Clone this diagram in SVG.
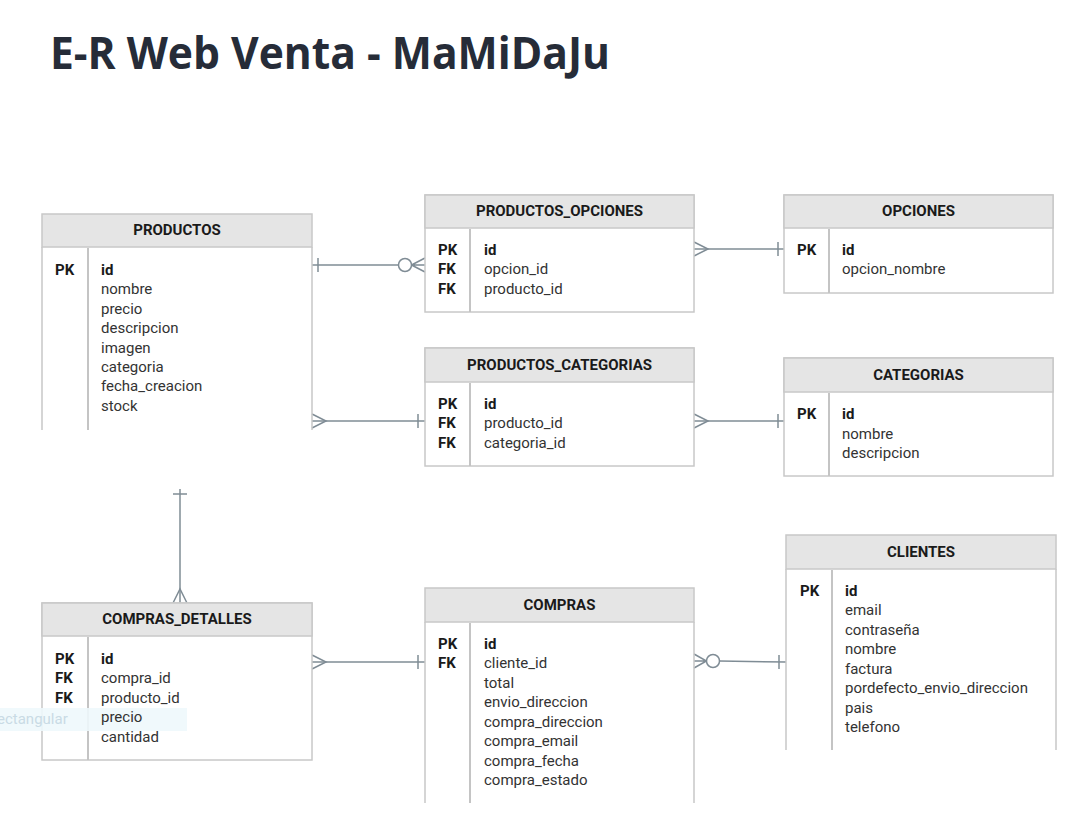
<svg xmlns="http://www.w3.org/2000/svg" width="1086" height="815" viewBox="0 0 1086 815">
<style>
.title{font-family:"Open Sans","Liberation Sans",sans-serif;font-weight:700;font-size:45px;fill:#262c38}
.hd{fill:#e5e5e5;stroke:#c8c8c8;stroke-width:1.5}
.bd{fill:#ffffff;stroke:#c8c8c8;stroke-width:1.5}
.ln{fill:none;stroke:#c8c8c8;stroke-width:1.5}
.dv{stroke:#c4c4c4;stroke-width:2}
.ht{font-family:Roboto,"Liberation Sans",sans-serif;font-weight:700;font-size:15px;fill:#1a1a1a;text-anchor:middle}
.k{font-family:Roboto,"Liberation Sans",sans-serif;font-weight:700;font-size:15px;fill:#1a1a1a}
.f{font-family:Roboto,"Liberation Sans",sans-serif;font-size:15px;fill:#333333}
.fb{font-family:Roboto,"Liberation Sans",sans-serif;font-weight:700;font-size:15px;fill:#1a1a1a}
.c{fill:none;stroke:#7f8c95;stroke-width:1.5}
.cw{fill:#ffffff;stroke:#7f8c95;stroke-width:1.5}
</style>
<rect width="1086" height="815" fill="#ffffff"/>
<text class="title" x="50" y="69" textLength="560" lengthAdjust="spacingAndGlyphs">E-R Web Venta - MaMiDaJu</text>

<g id="connectors">
<line class="c" x1="312" y1="265" x2="398" y2="265"/>
<line class="c" x1="318" y1="258" x2="318" y2="272"/>
<circle class="cw" cx="405" cy="265" r="6.5"/>
<path class="c" d="M411.5 265 L425 258 M411.5 265 L425 265 M411.5 265 L425 272"/>
<line class="c" x1="694" y1="249" x2="784" y2="249"/>
<path class="c" d="M694 242 L708 249 L694 256"/>
<line class="c" x1="778" y1="242" x2="778" y2="256"/>
<line class="c" x1="312" y1="421" x2="425" y2="421"/>
<path class="c" d="M312 414 L326 421 L312 428"/>
<line class="c" x1="418" y1="414" x2="418" y2="428"/>
<line class="c" x1="694" y1="421" x2="784" y2="421"/>
<path class="c" d="M694 414 L708 421 L694 428"/>
<line class="c" x1="778" y1="414" x2="778" y2="428"/>
<line class="c" x1="180" y1="489" x2="180" y2="603"/>
<line class="c" x1="173" y1="494" x2="187" y2="494"/>
<path class="c" d="M173 603 L180 589 L187 603"/>
<line class="c" x1="312" y1="662" x2="425" y2="662"/>
<path class="c" d="M312 655 L326 662 L312 669"/>
<line class="c" x1="418" y1="655" x2="418" y2="669"/>
<line class="c" x1="719.5" y1="661" x2="786" y2="662"/>
<path class="c" d="M694 654 L706.5 661 L694 668 M694 661 L706.5 661"/>
<circle class="cw" cx="713" cy="661" r="6.5"/>
<line class="c" x1="779" y1="655" x2="779" y2="669"/>
</g>

<g id="productos">
<rect class="hd" x="42" y="214" width="270" height="33"/>
<path class="ln" d="M42 247 L42 430 M312 247 L312 430"/>
<line class="dv" x1="88" y1="248" x2="88" y2="430"/>
<text class="ht" x="177" y="235">PRODUCTOS</text>
<text class="k" x="55" y="275">PK</text>
<text class="fb" x="101" y="275">id</text>
<text class="f" x="101" y="294">nombre</text>
<text class="f" x="101" y="314">precio</text>
<text class="f" x="101" y="333">descripcion</text>
<text class="f" x="101" y="353">imagen</text>
<text class="f" x="101" y="372">categoria</text>
<text class="f" x="101" y="391">fecha_creacion</text>
<text class="f" x="101" y="411">stock</text>
</g>

<g id="productos_opciones">
<rect class="bd" x="425" y="195" width="269" height="117"/>
<rect class="hd" x="425" y="195" width="269" height="33"/>
<line class="dv" x1="470" y1="229" x2="470" y2="312"/>
<text class="ht" x="559.5" y="216">PRODUCTOS_OPCIONES</text>
<text class="k" x="438" y="255">PK</text>
<text class="k" x="438" y="274">FK</text>
<text class="k" x="438" y="294">FK</text>
<text class="fb" x="484" y="255">id</text>
<text class="f" x="484" y="274">opcion_id</text>
<text class="f" x="484" y="294">producto_id</text>
</g>

<g id="opciones">
<rect class="bd" x="784" y="195" width="269" height="98"/>
<rect class="hd" x="784" y="195" width="269" height="33"/>
<line class="dv" x1="829" y1="229" x2="829" y2="293"/>
<text class="ht" x="918.5" y="216">OPCIONES</text>
<text class="k" x="797" y="255">PK</text>
<text class="fb" x="842" y="255">id</text>
<text class="f" x="842" y="274">opcion_nombre</text>
</g>

<g id="productos_categorias">
<rect class="bd" x="425" y="348" width="269" height="118"/>
<rect class="hd" x="425" y="348" width="269" height="34"/>
<line class="dv" x1="470" y1="383" x2="470" y2="466"/>
<text class="ht" x="559.5" y="370">PRODUCTOS_CATEGORIAS</text>
<text class="k" x="438" y="409">PK</text>
<text class="k" x="438" y="428">FK</text>
<text class="k" x="438" y="448">FK</text>
<text class="fb" x="484" y="409">id</text>
<text class="f" x="484" y="428">producto_id</text>
<text class="f" x="484" y="448">categoria_id</text>
</g>

<g id="categorias">
<rect class="bd" x="784" y="358" width="269" height="118"/>
<rect class="hd" x="784" y="358" width="269" height="34"/>
<line class="dv" x1="829" y1="393" x2="829" y2="476"/>
<text class="ht" x="918.5" y="380">CATEGORIAS</text>
<text class="k" x="797" y="419">PK</text>
<text class="fb" x="842" y="419">id</text>
<text class="f" x="842" y="439">nombre</text>
<text class="f" x="842" y="458">descripcion</text>
</g>

<g id="compras_detalles">
<rect class="bd" x="42" y="603" width="270" height="157"/>
<rect class="hd" x="42" y="603" width="270" height="33"/>
<line class="dv" x1="88" y1="637" x2="88" y2="760"/>
<rect x="0" y="708" width="187" height="23" fill="#eef8fc" opacity="0.9"/>
<text x="-3" y="724" font-family="Roboto,'Liberation Sans',sans-serif" font-size="15" fill="#c9dbe5">ectangular</text>
<text class="ht" x="177" y="624">COMPRAS_DETALLES</text>
<text class="k" x="55" y="664">PK</text>
<text class="k" x="55" y="683">FK</text>
<text class="k" x="55" y="703">FK</text>
<text class="fb" x="101" y="664">id</text>
<text class="f" x="101" y="683">compra_id</text>
<text class="f" x="101" y="703">producto_id</text>
<text class="f" x="101" y="722">precio</text>
<text class="f" x="101" y="742">cantidad</text>
</g>

<g id="compras">
<rect class="hd" x="425" y="588" width="269" height="34"/>
<path class="ln" d="M425 622 L425 803 M694 622 L694 803"/>
<line class="dv" x1="470" y1="623" x2="470" y2="803"/>
<text class="ht" x="559.5" y="610">COMPRAS</text>
<text class="k" x="438" y="649">PK</text>
<text class="k" x="438" y="668">FK</text>
<text class="fb" x="484" y="649">id</text>
<text class="f" x="484" y="668">cliente_id</text>
<text class="f" x="484" y="688">total</text>
<text class="f" x="484" y="707">envio_direccion</text>
<text class="f" x="484" y="727">compra_direccion</text>
<text class="f" x="484" y="746">compra_email</text>
<text class="f" x="484" y="766">compra_fecha</text>
<text class="f" x="484" y="785">compra_estado</text>
</g>

<g id="clientes">
<rect class="hd" x="786" y="535" width="270" height="34"/>
<path class="ln" d="M786 569 L786 750 M1056 569 L1056 750"/>
<line class="dv" x1="832" y1="570" x2="832" y2="750"/>
<text class="ht" x="921" y="557">CLIENTES</text>
<text class="k" x="800" y="596">PK</text>
<text class="fb" x="845" y="596">id</text>
<text class="f" x="845" y="615">email</text>
<text class="f" x="845" y="635">contraseña</text>
<text class="f" x="845" y="654">nombre</text>
<text class="f" x="845" y="674">factura</text>
<text class="f" x="845" y="693">pordefecto_envio_direccion</text>
<text class="f" x="845" y="713">pais</text>
<text class="f" x="845" y="732">telefono</text>
</g>
</svg>
